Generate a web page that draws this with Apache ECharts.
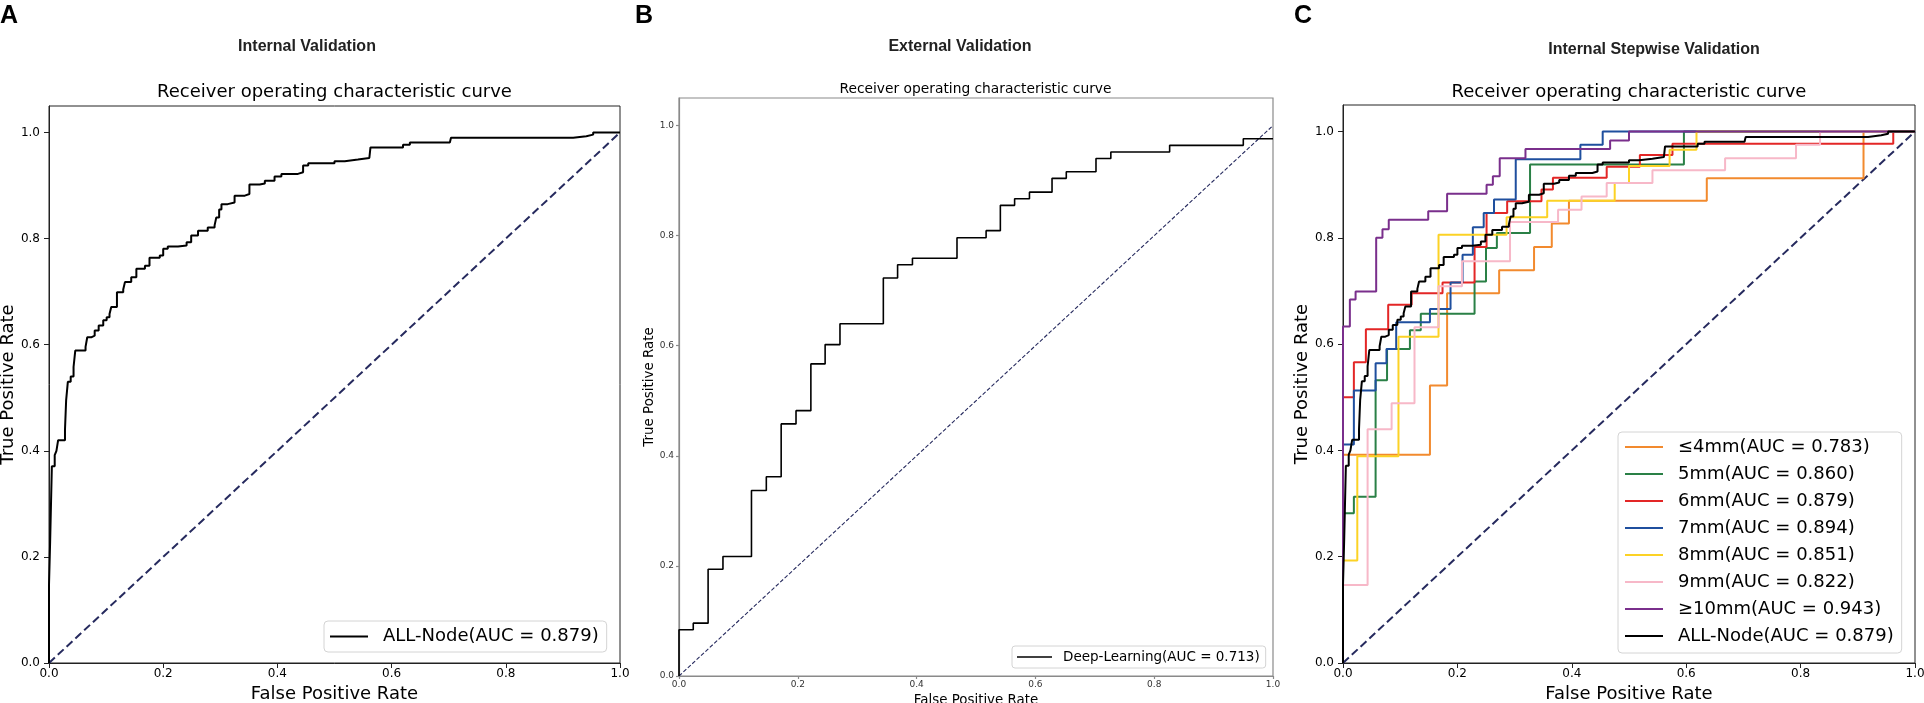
<!DOCTYPE html>
<html><head><meta charset="utf-8">
<script src="https://cdn.jsdelivr.net/npm/echarts@6/dist/echarts.min.js"></script>
<style>html,body{margin:0;padding:0;background:#fff}#c{width:1924px;height:703px}</style>
</head><body><div id="c"></div><script>
// ---------- data ----------
var xTicks = [0, 0.2, 0.4, 0.6, 0.8, 1.0];
var yTicks = [0, 0.2, 0.4, 0.6, 0.8, 1.0];
var diagFpr = [0, 1];
var diagTpr = [0, 1];

// Panel A / C : ALL-Node
var allNodeName = 'ALL-Node(AUC = 0.879)';
var allNodeFpr = [0,0,0.002,0.005,0.010,0.013,0.016,0.028,0.030,0.033,0.038,0.043,0.046,0.064,0.067,0.074,0.080,0.087,0.095,0.101,0.106,0.109,0.119,0.130,0.133,0.144,0.153,0.168,0.176,0.194,0.200,0.208,0.226,0.241,0.249,0.261,0.278,0.290,0.293,0.298,0.302,0.313,0.325,0.343,0.351,0.369,0.378,0.395,0.407,0.436,0.445,0.454,0.500,0.518,0.541,0.561,0.563,0.620,0.632,0.702,0.704,0.918,0.941,0.953,1.0];
var allNodeTpr = [0,0.147,0.229,0.371,0.392,0.400,0.420,0.440,0.495,0.530,0.540,0.558,0.589,0.596,0.614,0.617,0.627,0.636,0.646,0.652,0.658,0.671,0.699,0.704,0.718,0.727,0.743,0.749,0.764,0.768,0.781,0.785,0.787,0.793,0.806,0.815,0.821,0.825,0.840,0.855,0.865,0.868,0.881,0.884,0.902,0.904,0.909,0.917,0.922,0.925,0.938,0.942,0.946,0.949,0.952,0.953,0.972,0.977,0.981,0.981,0.990,0.993,0.996,1.0,1.0];

// Panel B : Deep-Learning
var dlName = 'Deep-Learning(AUC = 0.713)';
var dlFpr = [0,0,0.024,0.049,0.074,0.122,0.147,0.172,0.197,0.222,0.246,0.271,0.344,0.368,0.393,0.468,0.517,0.541,0.565,0.590,0.628,0.652,0.702,0.727,0.826,0.950,1.0];
var dlTpr = [0,0.084,0.096,0.194,0.217,0.337,0.362,0.458,0.482,0.567,0.602,0.640,0.723,0.747,0.759,0.796,0.809,0.855,0.867,0.879,0.904,0.916,0.940,0.952,0.964,0.976,0.976];

// Panel C : stepwise
var stepNames = ['≤4mm(AUC = 0.783)','5mm(AUC = 0.860)','6mm(AUC = 0.879)','7mm(AUC = 0.894)','8mm(AUC = 0.851)','9mm(AUC = 0.822)','≥10mm(AUC = 0.943)'];
var mm4Fpr = [0,0,0.152,0.182,0.273,0.334,0.365,0.395,0.636,0.910,1];
var mm4Tpr = [0,0.392,0.522,0.696,0.739,0.783,0.827,0.870,0.912,1.0,1.0];
var mm5Fpr = [0,0,0.019,0.057,0.077,0.117,0.136,0.230,0.250,0.269,0.327,0.596,1];
var mm5Tpr = [0,0.282,0.313,0.532,0.591,0.626,0.657,0.718,0.781,0.809,0.938,1.0,1.0];
var mm6Fpr = [0,0,0.019,0.040,0.079,0.120,0.174,0.230,0.251,0.287,0.347,0.367,0.461,0.519,0.576,0.962,1];
var mm6Tpr = [0,0.500,0.566,0.628,0.674,0.696,0.716,0.783,0.847,0.869,0.891,0.913,0.934,0.956,0.977,1.0,1.0];
var mm7Fpr = [0,0,0.019,0.057,0.076,0.093,0.152,0.188,0.209,0.227,0.246,0.264,0.302,0.415,0.454,1];
var mm7Tpr = [0,0.411,0.513,0.564,0.591,0.641,0.666,0.716,0.768,0.820,0.847,0.872,0.948,0.975,1.0,1.0];
var mm8Fpr = [0,0,0.025,0.097,0.167,0.286,0.357,0.475,0.500,0.571,0.618,1];
var mm8Tpr = [0,0.193,0.389,0.614,0.806,0.839,0.870,0.903,0.935,0.966,1.0,1.0];
var mm9Fpr = [0,0,0.043,0.085,0.125,0.167,0.208,0.292,0.376,0.417,0.461,0.541,0.668,0.792,0.834,1];
var mm9Tpr = [0,0.147,0.440,0.489,0.632,0.709,0.756,0.830,0.853,0.878,0.903,0.927,0.950,0.975,1.0,1.0];
var mm10Fpr = [0,0,0.012,0.022,0.058,0.069,0.080,0.149,0.182,0.251,0.262,0.274,0.319,0.467,0.500,1];
var mm10Tpr = [0,0.633,0.684,0.699,0.800,0.816,0.834,0.850,0.883,0.900,0.916,0.950,0.967,0.983,1.0,1.0];

// ---------- helpers ----------
function zip(a, b) { return a.map(function (v, i) { return [v, b[i]]; }); }
var MPL = 'DejaVu Sans';
var stepColors = ['#f28a2e','#2a8046','#e32626','#1f4f9e','#fcd225','#f7b8c8','#7a2f8c'];
var stepFpr = [mm4Fpr, mm5Fpr, mm6Fpr, mm7Fpr, mm8Fpr, mm9Fpr, mm10Fpr];
var stepTpr = [mm4Tpr, mm5Tpr, mm6Tpr, mm7Tpr, mm8Tpr, mm9Tpr, mm10Tpr];

function xAxis(gi, o) {
  return {
    type: 'value', gridIndex: gi, min: 0, max: 1, interval: 0.2,
    name: 'False Positive Rate', nameLocation: 'middle', nameGap: o.nameGap,
    nameTextStyle: { fontFamily: MPL, fontSize: o.nameSize, color: '#000' },
    axisLine: { show: true, lineStyle: { color: o.line, width: o.lw } },
    axisTick: { show: true, length: o.tick, lineStyle: { color: o.line, width: o.lw }, customValues: xTicks },
    axisLabel: { fontFamily: MPL, fontSize: o.labelSize, color: o.labelColor, margin: o.xMargin,
      customValues: xTicks, formatter: function (v) { return v.toFixed(1); } },
    splitLine: { show: false }
  };
}
function yAxis(gi, o) {
  return {
    type: 'value', gridIndex: gi, min: 0, max: 1.05, interval: 0.2,
    name: 'True Positive Rate', nameLocation: 'middle', nameGap: o.yNameGap, nameRotate: 90,
    nameTextStyle: { fontFamily: MPL, fontSize: o.nameSize, color: '#000' },
    axisLine: { show: true, lineStyle: { color: o.line, width: o.lw } },
    axisTick: { show: true, length: o.tick, lineStyle: { color: o.line, width: o.lw }, customValues: yTicks },
    axisLabel: { fontFamily: MPL, fontSize: o.labelSize, color: o.labelColor, margin: o.yMargin,
      customValues: yTicks, formatter: function (v) { return v > 1.001 ? '' : v.toFixed(1); } },
    splitLine: { show: false }
  };
}
var big = { nameGap: 20, yNameGap: 30, nameSize: 18, labelSize: 12, labelColor: '#000', line: '#222', lw: 1, tick: 5, xMargin: 5, yMargin: 9 };
var small = { nameGap: 16, yNameGap: 21, nameSize: 13.4, labelSize: 9, labelColor: '#333', line: '#8a8a8a', lw: 1.2, tick: 3, xMargin: 4, yMargin: 5 };
var bigC = Object.assign({}, big, { yNameGap: 29 });

function diag(gi, w, dash) {
  return { type: 'line', xAxisIndex: gi, yAxisIndex: gi, data: zip(diagFpr, diagTpr), symbol: 'none',
    lineStyle: { color: '#262a5e', width: w, type: dash }, silent: true, z: 1 };
}
function roc(gi, name, fpr, tpr, color, w, z) {
  return { type: 'line', name: name, xAxisIndex: gi, yAxisIndex: gi, data: zip(fpr, tpr), step: 'end',
    symbol: 'none', showSymbol: false, color: color, lineStyle: { color: color, width: w }, z: z || 2 };
}

var series = [];
series.push(diag(0, 2, [8, 4]));
series.push(roc(0, allNodeName, allNodeFpr, allNodeTpr, '#000', 2, 3));
series.push(diag(1, 1.1, [4, 2]));
series.push(roc(1, dlName, dlFpr, dlTpr, '#000', 1.6, 3));
series.push(diag(2, 2, [8, 4]));
for (var i = 0; i < stepNames.length; i++) {
  series.push(roc(2, stepNames[i], stepFpr[i], stepTpr[i], stepColors[i], 2, 2 + i * 0.01));
}
series.push(roc(2, allNodeName, allNodeFpr, allNodeTpr, '#000', 2, 3));

function legend(o) {
  return Object.assign({
    orient: 'vertical', icon: 'rect', itemWidth: 38, itemHeight: 2, selectedMode: false,
    itemStyle: { borderWidth: 0 },
    backgroundColor: 'rgba(255,255,255,0.8)', borderColor: '#d4d4d4', borderWidth: 1, borderRadius: 4
  }, o);
}

var gText = function (t, x, y, size, weight, family, color) {
  return { type: 'text', x: x, y: y, silent: true,
    style: { text: t, fontSize: size, fontWeight: weight, fontFamily: family, fill: color, align: 'center', verticalAlign: 'middle' } };
};

var option = {
  animation: false,
  backgroundColor: '#fff',
  grid: [
    { left: 49, top: 106, width: 571, height: 557, show: true, borderColor: '#222', borderWidth: 1, outerBoundsMode: 'none', containLabel: false },
    { left: 679, top: 98, width: 594, height: 578, show: true, borderColor: '#8a8a8a', borderWidth: 1.2, outerBoundsMode: 'none', containLabel: false },
    { left: 1343, top: 105, width: 572, height: 558, show: true, borderColor: '#222', borderWidth: 1, outerBoundsMode: 'none', containLabel: false }
  ],
  xAxis: [xAxis(0, big), xAxis(1, small), xAxis(2, bigC)],
  yAxis: [yAxis(0, big), yAxis(1, small), yAxis(2, bigC)],
  legend: [
    legend({ left: 324, top: 621, data: [allNodeName], padding: [5, 8, 5, 6],
      textStyle: { fontFamily: MPL, fontSize: 18, color: '#000', lineHeight: 21, padding: [0, 0, 0, 10] } }),
    legend({ left: 1012, top: 646, data: [dlName], itemWidth: 35, itemHeight: 1.6, padding: [3, 6, 3, 5], borderRadius: 3,
      textStyle: { fontFamily: MPL, fontSize: 13.5, color: '#000', lineHeight: 16, padding: [0, 0, 0, 6] } }),
    legend({ left: 1618, top: 432, data: stepNames.concat([allNodeName]), itemGap: 5, padding: [4, 8, 6, 7],
      textStyle: { fontFamily: MPL, fontSize: 18, color: '#000', lineHeight: 22, padding: [0, 0, 0, 10] } })
  ],
  graphic: [
    { type: 'text', x: 0, y: 16, silent: true, style: { text: 'A', fontSize: 25, fontWeight: 'bold', fontFamily: 'Liberation Sans', fill: '#000', align: 'left', verticalAlign: 'middle' } },
    { type: 'text', x: 635, y: 16, silent: true, style: { text: 'B', fontSize: 25, fontWeight: 'bold', fontFamily: 'Liberation Sans', fill: '#000', align: 'left', verticalAlign: 'middle' } },
    { type: 'text', x: 1294, y: 16, silent: true, style: { text: 'C', fontSize: 25, fontWeight: 'bold', fontFamily: 'Liberation Sans', fill: '#000', align: 'left', verticalAlign: 'middle' } },
    gText('Internal Validation', 307, 46.5, 16, 'bold', 'Liberation Sans', '#222'),
    gText('External Validation', 960, 46.5, 16, 'bold', 'Liberation Sans', '#222'),
    gText('Internal Stepwise Validation', 1654, 49.5, 16, 'bold', 'Liberation Sans', '#222'),
    gText('Receiver operating characteristic curve', 334.5, 92.5, 18, 'normal', MPL, '#000'),
    gText('Receiver operating characteristic curve', 975.5, 89, 13.8, 'normal', MPL, '#000'),
    gText('Receiver operating characteristic curve', 1629, 92.5, 18, 'normal', MPL, '#000')
  ],
  series: series
};

var chart = echarts.init(document.getElementById('c'), null, { renderer: 'canvas' });
chart.setOption(option);
</script></body></html>
